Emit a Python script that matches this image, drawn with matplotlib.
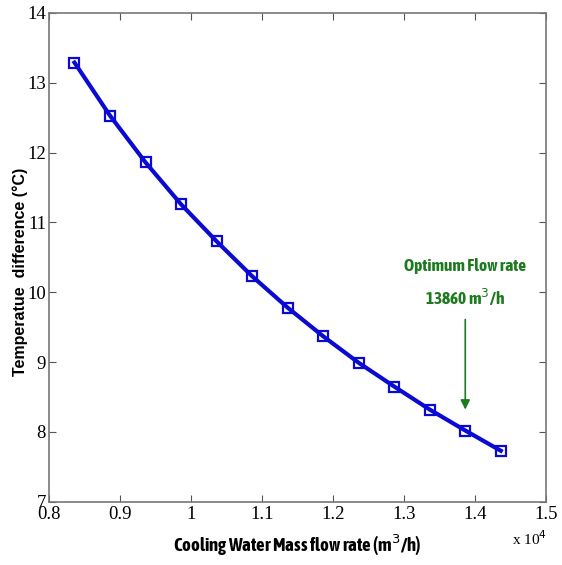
import matplotlib.pyplot as plt
from matplotlib import font_manager

# cooling water flow rate (m3/h) and temperature difference (C)
flow_rate = [8360, 8860, 9360, 9860, 10360, 10860, 11360,
             11860, 12360, 12860, 13360, 13860, 14360]
temp_diff = [13.29, 12.53, 11.86, 11.26, 10.73, 10.23, 9.78,
             9.37, 8.99, 8.65, 8.32, 8.02, 7.73]

x_ticks = [0.8, 0.9, 1.0, 1.1, 1.2, 1.3, 1.4, 1.5]
x_tick_labels = ['0.8', '0.9', '1', '1.1', '1.2', '1.3', '1.4', '1.5']
y_ticks = [7, 8, 9, 10, 11, 12, 13, 14]

optimum_flow = 13860
optimum_temp = 8.02

# look for a condensed sans with a bold face
fonts = font_manager.fontManager.ttflist
cands = sorted({f.name for f in fonts if 'Narrow' in f.name or 'Condensed' in f.name})
narrow = None
for n in cands:
    ws = [f.weight for f in fonts if f.name == n]
    if any((w if isinstance(w, int) else 700 if w == 'bold' else 400) >= 600 for w in ws):
        narrow = n
        break
if narrow is None:
    narrow = cands[0] if cands else 'Liberation Sans'

plt.rcParams['font.family'] = 'Liberation Serif'

fig = plt.figure(figsize=(5.62, 5.65), dpi=100)
ax = fig.add_axes([0.087, 0.112, 0.885, 0.865])

xs = [v / 1e4 for v in flow_rate]
ax.plot(xs, temp_diff, color='#0a0ad2', lw=3, marker='s', ms=6.5,
        mfc='none', mec='#0a0ad2', mew=1.6)

ax.set_xlim(0.8, 1.5)
ax.set_ylim(7, 14)
ax.set_xticks(x_ticks)
ax.set_xticklabels(x_tick_labels)
ax.set_yticks(y_ticks)
ax.tick_params(direction='in', top=True, right=True, length=5,
               color='#555555', labelsize=13.5, pad=3)
ax.tick_params(axis='y', pad=2)
for s in ax.spines.values():
    s.set_color('#777777')
    s.set_linewidth(1.2)

ax.set_xlabel('Cooling Water Mass flow rate (m$^3$/h)', family=narrow,
              fontweight='bold', fontsize=13.5)
ax.xaxis.set_label_coords(0.5, -0.063)
ax.set_ylabel('Temperatue  difference (\u00b0C)', family='Liberation Sans',
              fontweight='bold', fontsize=11.5)
ax.yaxis.set_label_coords(-0.043, 0.47)

ax.text(1.452, 6.47, 'x 10$^4$', fontsize=11, ha='left', va='center')

# optimum annotation
ax.annotate('', xy=(optimum_flow / 1e4, 8.28),
            xytext=(optimum_flow / 1e4, 9.65),
            arrowprops=dict(arrowstyle='-|>', color='#1e7a1e', lw=1.2,
                            mutation_scale=14))
ax.text(optimum_flow / 1e4, 10.37, 'Optimum Flow rate', color='#1e7a1e',
        family=narrow, fontweight='bold', fontsize=12.5,
        ha='center', va='center')
ax.text(optimum_flow / 1e4, 9.92, '13860 m$^3$/h', color='#1e7a1e',
        family=narrow, fontweight='bold', fontsize=12.5,
        ha='center', va='center')

fig.savefig('out.png', dpi=100)
